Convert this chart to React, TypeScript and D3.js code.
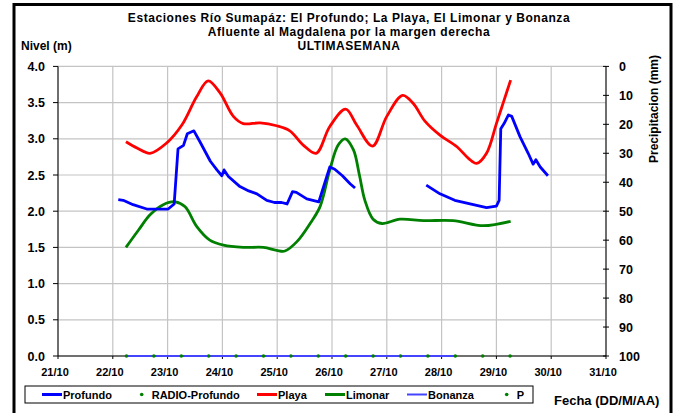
import React from 'react';
import * as d3 from 'd3';

const W = 674;
const H = 413;

const levelTicks = [0, 0.5, 1, 1.5, 2, 2.5, 3, 3.5, 4];
const precipTicks = [0, 10, 20, 30, 40, 50, 60, 70, 80, 90, 100];
const dayTicks = [21, 22, 23, 24, 25, 26, 27, 28, 29, 30, 31];
const dayLabels = ['21/10', '22/10', '23/10', '24/10', '25/10', '26/10', '27/10', '28/10', '29/10', '30/10', '31/10'];

const titleLines = [
  'Estaciones Río Sumapáz: El Profundo; La Playa, El Limonar y Bonanza',
  'Afluente al Magdalena por la margen derecha',
  'ULTIMASEMANA',
];

// Profundo (null = gap)
const profundoDays = [22.10, 22.19, 22.37, 22.62, 22.80, 23.01, 23.12, 23.19, 23.29, 23.36, 23.48, 23.59, 23.78, 23.90, 23.99, 24.03, 24.11, 24.32, 24.48, 24.63, 24.81, 24.95, 25.08, 25.18, 25.28, 25.35, 25.54, 25.76, 25.96, 26.05, 26.19, 26.33, 26.42,
  26.6,
  27.72, 27.97, 28.24, 28.58, 28.82, 29.00, 29.05, 29.08, 29.14, 29.22, 29.28, 29.43, 29.58, 29.67, 29.72, 29.80, 29.94];
const profundoValues = [2.16, 2.15, 2.09, 2.03, 2.03, 2.03, 2.10, 2.86, 2.91, 3.07, 3.11, 2.96, 2.69, 2.57, 2.49, 2.57, 2.48, 2.34, 2.28, 2.24, 2.15, 2.12, 2.12, 2.10, 2.27, 2.26, 2.17, 2.13, 2.61, 2.58, 2.49, 2.38, 2.32,
  null,
  2.36, 2.24, 2.15, 2.09, 2.05, 2.07, 2.15, 3.14, 3.21, 3.33, 3.31, 3.03, 2.80, 2.65, 2.71, 2.61, 2.49];

const playaDays = [22.24, 22.45, 22.68, 22.98, 23.26, 23.53, 23.74, 23.96, 24.20, 24.38, 24.69, 24.99, 25.23, 25.48, 25.71, 25.96, 26.25, 26.45, 26.74, 27.00, 27.29, 27.48, 27.70, 27.97, 28.28, 28.49, 28.64, 28.82, 29.00, 29.13, 29.26];
const playaValues = [2.96, 2.87, 2.80, 2.94, 3.19, 3.58, 3.80, 3.63, 3.31, 3.21, 3.22, 3.18, 3.11, 2.91, 2.80, 3.17, 3.41, 3.19, 2.90, 3.31, 3.60, 3.49, 3.24, 3.05, 2.89, 2.73, 2.66, 2.80, 3.21, 3.51, 3.81];

const limonarDays = [22.24, 22.47, 22.68, 22.92, 23.14, 23.32, 23.53, 23.77, 24.02, 24.38, 24.75, 24.99, 25.14, 25.36, 25.60, 25.78, 25.96, 26.11, 26.24, 26.39, 26.50, 26.60, 26.75, 26.91, 27.24, 27.67, 28.21, 28.76, 29.26];
const limonarValues = [1.50, 1.74, 1.95, 2.09, 2.13, 2.06, 1.79, 1.60, 1.53, 1.50, 1.50, 1.46, 1.45, 1.58, 1.83, 2.06, 2.57, 2.91, 3.00, 2.85, 2.50, 2.15, 1.89, 1.83, 1.89, 1.87, 1.87, 1.80, 1.86];

const bonanzaDays = [22.24, 28.24];
const bonanzaValues = [0, 0];

const radioDays = [22.25, 22.75, 23.25, 23.75, 24.25, 24.75, 25.25, 25.75, 26.25, 26.75, 27.25, 27.75, 28.25, 28.75, 29.25];
const radioValues = [0, 0, 0, 0, 0, 0, 0, 0, 0, 0, 0, 0, 0, 0, 0];

const FONT = '"Liberation Sans", Arial, sans-serif';

export default function App() {
  const left = 58, right = 606, top = 66.4, bottom = 356;
  const x = d3.scaleLinear().domain([21, 31]).range([left, right]);
  const y = d3.scaleLinear().domain([0, 4]).range([bottom, top]);
  const yP = d3.scaleLinear().domain([0, 100]).range([top, bottom]);

  type P = [number, number | null];
  const zip = (ds: number[], vs: (number | null)[]): P[] => ds.map((d, i) => [d, vs[i]]);

  const linear = d3.line<P>().defined(d => d[1] !== null).x(d => x(d[0])).y(d => y(d[1] as number)).curve(d3.curveLinear);
  const smooth = d3.line<P>().defined(d => d[1] !== null).x(d => x(d[0])).y(d => y(d[1] as number)).curve(d3.curveCatmullRom.alpha(0.5));

  const legendY = 394.5;
  const legendItems = [
    { kind: 'line', x: 42, color: '#0000ff', w: 3, label: 'Profundo' },
    { kind: 'dot', x: 141.7, color: '#008000', w: 0, label: 'RADIO-Profundo' },
    { kind: 'line', x: 257, color: '#ff0000', w: 3, label: 'Playa' },
    { kind: 'line', x: 325, color: '#008000', w: 3, label: 'Limonar' },
    { kind: 'line', x: 407, color: '#4444ff', w: 2, label: 'Bonanza' },
    { kind: 'dot', x: 506.7, color: '#008000', w: 0, label: 'P' },
  ];

  return (
    <svg width={W} height={H} style={{ position: 'absolute', left: 0, top: 0, background: '#fff' }} fontFamily={FONT}>
      <rect x={14} y={4.5} width={657} height={440} fill="#fff" stroke="#000" strokeWidth={3} />

      {/* Title */}
      {titleLines.map((t, i) => (
        <text key={i} x={349} y={21.5 + i * 14} textAnchor="middle" fontSize={12} letterSpacing={0.55} fontWeight="bold">{t}</text>
      ))}
      <text x={21} y={50} fontSize={12} fontWeight="bold">Nivel (m)</text>

      {/* grid */}
      {levelTicks.map(v => (
        <line key={'h' + v} x1={left} x2={right} y1={y(v)} y2={y(v)} stroke="#c4c4c4" strokeWidth={1.2} />
      ))}
      {dayTicks.map(d => (
        <line key={'v' + d} x1={x(d)} x2={x(d)} y1={top} y2={bottom} stroke="#c4c4c4" strokeWidth={1.2} />
      ))}

      {/* axes */}
      <line x1={left} x2={left} y1={top} y2={bottom} stroke="#000" />
      <line x1={left} x2={right} y1={bottom} y2={bottom} stroke="#000" />
      <line x1={right} x2={right} y1={top} y2={bottom} stroke="#000" />
      {levelTicks.map(v => (
        <g key={'yl' + v}>
          <line x1={left - 5} x2={left} y1={y(v)} y2={y(v)} stroke="#000" />
          <text x={45} y={y(v) + 4.5} textAnchor="end" fontSize={12.5} fontWeight="bold">{v.toFixed(1)}</text>
        </g>
      ))}
      {precipTicks.map(v => (
        <g key={'yr' + v}>
          <line x1={right - 3} x2={right + 3} y1={yP(v)} y2={yP(v)} stroke="#000" />
          <text x={619} y={yP(v) + 4.5} fontSize={12.5} fontWeight="bold">{v}</text>
        </g>
      ))}
      {dayTicks.map((d, i) => (
        <g key={'xl' + d}>
          <line x1={x(d)} x2={x(d)} y1={bottom} y2={bottom + 3} stroke="#000" />
          <text x={x(d) - 3} y={376} textAnchor="middle" fontSize={11} fontWeight="bold">{dayLabels[i]}</text>
        </g>
      ))}
      <text transform="translate(658,109) rotate(-90)" textAnchor="middle" fontSize={12} fontWeight="bold">Precipitacion (mm)</text>

      {/* series */}
      <path d={linear(zip(bonanzaDays, bonanzaValues)) || ''} fill="none" stroke="#4444ff" strokeWidth={2} />
      <path d={smooth(zip(limonarDays, limonarValues)) || ''} fill="none" stroke="#008000" strokeWidth={2.8} />
      <path d={smooth(zip(playaDays, playaValues)) || ''} fill="none" stroke="#ff0000" strokeWidth={2.8} />
      <path d={linear(zip(profundoDays, profundoValues)) || ''} fill="none" stroke="#0000ff" strokeWidth={2.8} strokeLinejoin="round" />
      {radioDays.map((d, i) => (
        <circle key={'r' + i} cx={x(d)} cy={y(radioValues[i])} r={1.8} fill="#008000" />
      ))}

      {/* legend */}
      <rect x={25} y={386} width={508} height={17} fill="#fff" stroke="#000" strokeWidth={1} />
      {legendItems.map(it => (
        <g key={it.label}>
          {it.kind === 'line'
            ? <line x1={it.x} x2={it.x + 20} y1={legendY} y2={legendY} stroke={it.color} strokeWidth={it.w} />
            : <circle cx={it.x} cy={legendY} r={1.8} fill={it.color} />}
          <text x={it.kind === 'line' ? it.x + 21 : it.x + 10} y={legendY + 4} fontSize={11} fontWeight="bold">{it.label}</text>
        </g>
      ))}
      <text x={554} y={404.5} fontSize={13} fontWeight="bold">Fecha (DD/M/AA)</text>
    </svg>
  );
}
